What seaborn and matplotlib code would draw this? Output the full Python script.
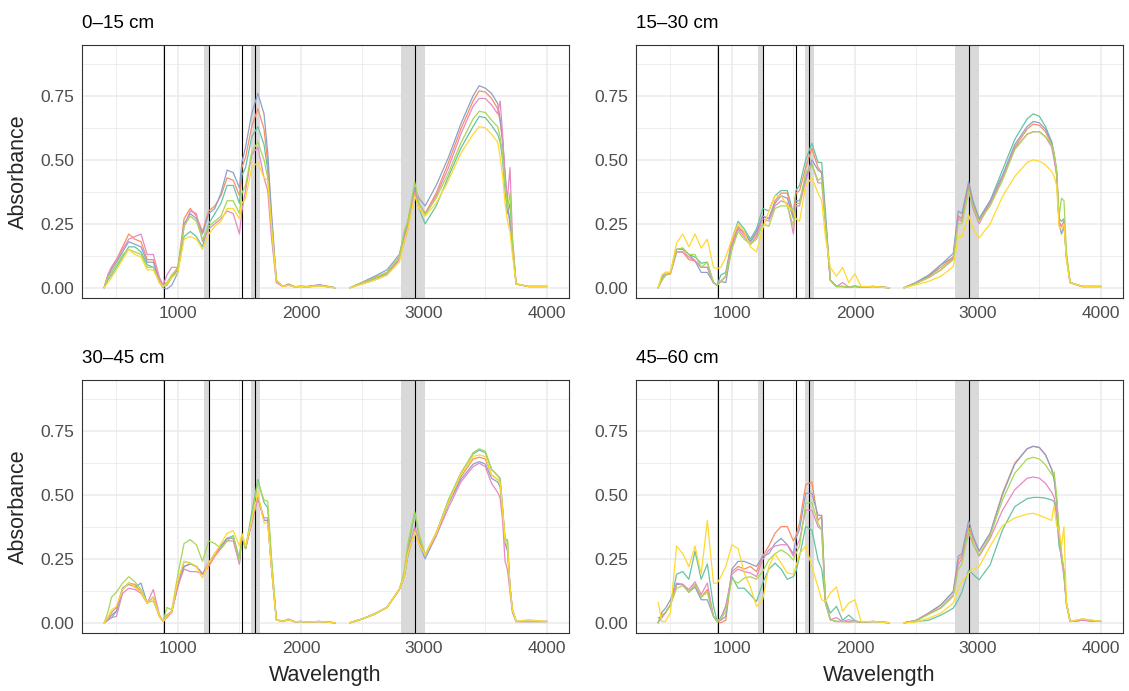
import numpy as np
import pandas as pd
import matplotlib
matplotlib.use("Agg")
import matplotlib.pyplot as plt
import seaborn as sns

# wavelength grid the spectra were read at (gap in the data between 2280 and 2400)
wavelength = [400, 430, 460, 500, 550, 600, 650, 700, 750, 800,
              850, 880, 910, 950, 1000, 1050, 1100, 1150, 1200, 1250,
              1300, 1350, 1400, 1450, 1500, 1520, 1550, 1600, 1650, 1700,
              1730, 1760, 1800, 1850, 1900, 1950, 2000, 2050, 2150, 2280,
              2400, 2500, 2600, 2700, 2800, 2840, 2870, 2925, 2960, 3010,
              3100, 3200, 3300, 3400, 3450, 3500, 3550, 3600, 3620, 3640,
              3660, 3680, 3700, 3720, 3750, 3850, 4000]

depths = ["0\u201315 cm", "15\u201330 cm", "30\u201345 cm", "45\u201360 cm"]
samples = ["S1", "S2", "S3", "S4", "S5", "S6"]

# 0-15 cm
p1_s1 = [0.00, 0.03, 0.05, 0.08, 0.12, 0.16, 0.16, 0.14, 0.09, 0.08,
         0.02, 0.005, 0.01, 0.04, 0.07, 0.20, 0.22, 0.20, 0.16, 0.25,
         0.29, 0.33, 0.40, 0.40, 0.33, 0.44, 0.47, 0.59, 0.63, 0.56,
         0.46, 0.25, 0.03, 0.005, 0.012, 0.003, 0.005, 0.003, 0.008, 0.0,
         0.0, 0.018, 0.035, 0.055, 0.11, 0.18, 0.23, 0.38, 0.31, 0.25,
         0.32, 0.435, 0.545, 0.63, 0.67, 0.665, 0.635, 0.60, 0.57, 0.50,
         0.38, 0.29, 0.33, 0.17, 0.015, 0.005, 0.005]
p1_s2 = [0.00, 0.05, 0.08, 0.11, 0.16, 0.21, 0.19, 0.18, 0.11, 0.11,
         0.03, 0.01, 0.02, 0.045, 0.08, 0.27, 0.31, 0.28, 0.22, 0.30,
         0.32, 0.36, 0.43, 0.42, 0.36, 0.47, 0.51, 0.63, 0.70, 0.62,
         0.49, 0.28, 0.03, 0.005, 0.015, 0.004, 0.006, 0.004, 0.01, 0.0,
         0.0, 0.02, 0.04, 0.06, 0.12, 0.20, 0.25, 0.38, 0.33, 0.29,
         0.37, 0.49, 0.62, 0.73, 0.77, 0.765, 0.74, 0.70, 0.65, 0.57,
         0.44, 0.32, 0.26, 0.15, 0.015, 0.005, 0.005]
p1_s3 = [0.00, 0.04, 0.07, 0.10, 0.14, 0.18, 0.17, 0.16, 0.10, 0.10,
         0.02, 0.0, -0.005, 0.01, 0.06, 0.25, 0.29, 0.27, 0.21, 0.29,
         0.31, 0.37, 0.46, 0.45, 0.39, 0.49, 0.55, 0.68, 0.76, 0.68,
         0.53, 0.30, 0.03, 0.005, 0.012, 0.004, 0.006, 0.005, 0.012, 0.0,
         0.0, 0.022, 0.045, 0.07, 0.13, 0.21, 0.26, 0.39, 0.35, 0.32,
         0.40, 0.51, 0.64, 0.75, 0.79, 0.78, 0.76, 0.72, 0.66, 0.58,
         0.45, 0.32, 0.25, 0.15, 0.015, 0.005, 0.005]
p1_s4 = [0.00, 0.05, 0.08, 0.11, 0.15, 0.19, 0.20, 0.21, 0.13, 0.13,
         0.04, 0.01, 0.05, 0.08, 0.08, 0.24, 0.30, 0.29, 0.18, 0.23,
         0.25, 0.27, 0.30, 0.29, 0.21, 0.30, 0.38, 0.52, 0.55, 0.43,
         0.38, 0.20, 0.02, 0.005, 0.01, 0.004, 0.005, 0.004, 0.01, 0.0,
         0.0, 0.015, 0.03, 0.05, 0.11, 0.19, 0.24, 0.37, 0.33, 0.29,
         0.36, 0.47, 0.60, 0.71, 0.74, 0.74, 0.715, 0.68, 0.73, 0.60,
         0.42, 0.35, 0.47, 0.20, 0.015, 0.005, 0.005]
p1_s5 = [0.00, 0.04, 0.06, 0.09, 0.13, 0.15, 0.14, 0.13, 0.08, 0.08,
         0.02, 0.005, 0.02, 0.05, 0.08, 0.24, 0.28, 0.26, 0.19, 0.24,
         0.26, 0.28, 0.34, 0.34, 0.29, 0.37, 0.40, 0.53, 0.57, 0.50,
         0.43, 0.25, 0.03, 0.005, 0.01, 0.003, 0.005, 0.003, 0.008, 0.0,
         0.0, 0.02, 0.038, 0.06, 0.12, 0.22, 0.26, 0.415, 0.33, 0.285,
         0.35, 0.45, 0.565, 0.66, 0.69, 0.685, 0.655, 0.63, 0.59, 0.52,
         0.40, 0.31, 0.37, 0.18, 0.015, 0.005, 0.005]
p1_s6 = [0.00, 0.02, 0.04, 0.07, 0.11, 0.15, 0.13, 0.12, 0.07, 0.07,
         0.02, 0.005, 0.015, 0.04, 0.06, 0.19, 0.20, 0.19, 0.15, 0.21,
         0.24, 0.26, 0.31, 0.31, 0.27, 0.33, 0.35, 0.47, 0.49, 0.43,
         0.42, 0.24, 0.03, 0.005, 0.01, 0.003, 0.005, 0.003, 0.008, 0.0,
         0.0, 0.015, 0.03, 0.05, 0.10, 0.18, 0.23, 0.36, 0.31, 0.28,
         0.33, 0.42, 0.525, 0.60, 0.63, 0.625, 0.60, 0.57, 0.51, 0.44,
         0.33, 0.26, 0.22, 0.13, 0.015, 0.005, 0.005]

# 15-30 cm
p2_s1 = [0.00, 0.03, 0.05, 0.06, 0.15, 0.155, 0.13, 0.12, 0.096, 0.10,
         0.02, 0.01, 0.05, 0.06, 0.19, 0.26, 0.23, 0.19, 0.23, 0.31,
         0.30, 0.36, 0.38, 0.38, 0.29, 0.38, 0.40, 0.50, 0.565, 0.49,
         0.49, 0.30, 0.03, 0.005, 0.005, 0.003, 0.005, 0.003, 0.005, 0.0,
         0.0, 0.02, 0.045, 0.09, 0.12, 0.28, 0.27, 0.40, 0.33, 0.27,
         0.34, 0.46, 0.58, 0.66, 0.68, 0.67, 0.63, 0.57, 0.525, 0.46,
         0.27, 0.26, 0.27, 0.12, 0.02, 0.005, 0.005]
p2_s2 = [0.00, 0.03, 0.05, 0.055, 0.14, 0.14, 0.11, 0.105, 0.08, 0.08,
         0.02, 0.01, 0.025, 0.045, 0.18, 0.24, 0.21, 0.18, 0.21, 0.28,
         0.27, 0.34, 0.37, 0.37, 0.28, 0.37, 0.38, 0.47, 0.545, 0.47,
         0.45, 0.27, 0.03, 0.005, 0.005, 0.003, 0.005, 0.003, 0.005, 0.0,
         0.0, 0.02, 0.045, 0.08, 0.12, 0.28, 0.27, 0.40, 0.33, 0.265,
         0.33, 0.43, 0.55, 0.62, 0.64, 0.635, 0.61, 0.56, 0.51, 0.45,
         0.26, 0.24, 0.26, 0.12, 0.02, 0.005, 0.005]
p2_s3 = [0.00, 0.04, 0.06, 0.06, 0.15, 0.15, 0.13, 0.105, 0.06, 0.06,
         0.02, 0.01, 0.025, 0.02, 0.16, 0.23, 0.22, 0.18, 0.22, 0.28,
         0.27, 0.33, 0.36, 0.35, 0.27, 0.34, 0.34, 0.43, 0.50, 0.46,
         0.45, 0.27, 0.03, 0.005, 0.005, 0.003, 0.005, 0.003, 0.005, 0.0,
         0.0, 0.022, 0.05, 0.09, 0.135, 0.30, 0.29, 0.415, 0.34, 0.27,
         0.34, 0.44, 0.56, 0.63, 0.65, 0.645, 0.62, 0.57, 0.52, 0.45,
         0.25, 0.21, 0.24, 0.12, 0.02, 0.005, 0.005]
p2_s4 = [0.00, 0.03, 0.05, 0.055, 0.14, 0.14, 0.12, 0.105, 0.08, 0.08,
         0.02, 0.01, 0.025, 0.045, 0.17, 0.23, 0.20, 0.17, 0.20, 0.27,
         0.26, 0.32, 0.34, 0.33, 0.21, 0.32, 0.32, 0.42, 0.485, 0.41,
         0.41, 0.25, 0.03, 0.005, 0.02, 0.003, 0.008, 0.003, 0.005, 0.0,
         0.0, 0.018, 0.04, 0.07, 0.115, 0.27, 0.26, 0.38, 0.31, 0.25,
         0.33, 0.43, 0.545, 0.60, 0.61, 0.61, 0.59, 0.55, 0.50, 0.44,
         0.25, 0.24, 0.26, 0.12, 0.02, 0.005, 0.005]
p2_s5 = [0.00, 0.03, 0.05, 0.06, 0.15, 0.155, 0.13, 0.13, 0.08, 0.10,
         0.02, 0.01, 0.025, 0.045, 0.15, 0.22, 0.19, 0.17, 0.19, 0.25,
         0.24, 0.31, 0.32, 0.32, 0.24, 0.33, 0.33, 0.45, 0.48, 0.42,
         0.43, 0.26, 0.03, 0.005, 0.005, 0.003, 0.005, 0.003, 0.005, 0.0,
         0.0, 0.018, 0.04, 0.07, 0.11, 0.25, 0.25, 0.38, 0.32, 0.26,
         0.32, 0.42, 0.54, 0.60, 0.61, 0.61, 0.59, 0.56, 0.525, 0.46,
         0.28, 0.35, 0.34, 0.14, 0.02, 0.005, 0.005]
p2_s6 = [0.00, 0.05, 0.06, 0.06, 0.175, 0.21, 0.16, 0.21, 0.155, 0.19,
         0.08, 0.075, 0.08, 0.12, 0.19, 0.25, 0.22, 0.16, 0.14, 0.23,
         0.30, 0.36, 0.36, 0.32, 0.30, 0.27, 0.26, 0.40, 0.43, 0.37,
         0.34, 0.20, 0.08, 0.045, 0.08, 0.02, 0.055, 0.005, 0.005, 0.0,
         0.0, 0.012, 0.025, 0.045, 0.083, 0.20, 0.20, 0.285, 0.23, 0.195,
         0.25, 0.357, 0.435, 0.49, 0.50, 0.495, 0.48, 0.455, 0.435, 0.40,
         0.24, 0.23, 0.25, 0.11, 0.02, 0.005, 0.005]

# 30-45 cm
p3_s1 = [0.00, 0.01, 0.02, 0.045, 0.13, 0.155, 0.14, 0.12, 0.077, 0.10,
         0.025, 0.005, 0.03, 0.045, 0.15, 0.24, 0.233, 0.22, 0.19, 0.233,
         0.27, 0.30, 0.33, 0.34, 0.25, 0.345, 0.29, 0.43, 0.56, 0.47,
         0.45, 0.25, 0.012, 0.005, 0.012, 0.004, 0.005, 0.003, 0.005, 0.0,
         0.0, 0.015, 0.035, 0.06, 0.13, 0.18, 0.285, 0.43, 0.34, 0.265,
         0.35, 0.48, 0.585, 0.66, 0.675, 0.665, 0.60, 0.575, 0.565, 0.45,
         0.32, 0.32, 0.14, 0.05, 0.005, 0.005, 0.005]
p3_s2 = [0.00, 0.02, 0.04, 0.06, 0.135, 0.155, 0.15, 0.12, 0.077, 0.10,
         0.025, 0.005, 0.025, 0.045, 0.14, 0.22, 0.23, 0.22, 0.19, 0.22,
         0.26, 0.29, 0.33, 0.33, 0.24, 0.34, 0.29, 0.39, 0.49, 0.40,
         0.40, 0.22, 0.012, 0.005, 0.012, 0.004, 0.005, 0.003, 0.005, 0.0,
         0.0, 0.015, 0.035, 0.06, 0.13, 0.18, 0.285, 0.37, 0.32, 0.265,
         0.35, 0.47, 0.57, 0.64, 0.647, 0.64, 0.578, 0.56, 0.55, 0.44,
         0.32, 0.29, 0.14, 0.05, 0.005, 0.005, 0.005]
p3_s3 = [0.00, 0.015, 0.03, 0.045, 0.135, 0.15, 0.14, 0.155, 0.077, 0.10,
         0.025, 0.005, 0.025, 0.045, 0.15, 0.22, 0.23, 0.22, 0.19, 0.233,
         0.27, 0.30, 0.33, 0.33, 0.23, 0.34, 0.29, 0.40, 0.49, 0.40,
         0.40, 0.22, 0.012, 0.005, 0.012, 0.004, 0.005, 0.003, 0.005, 0.0,
         0.0, 0.015, 0.035, 0.06, 0.13, 0.18, 0.26, 0.36, 0.31, 0.25,
         0.34, 0.465, 0.56, 0.62, 0.63, 0.62, 0.565, 0.55, 0.53, 0.43,
         0.31, 0.28, 0.14, 0.05, 0.005, 0.005, 0.005]
p3_s4 = [0.00, 0.01, 0.02, 0.025, 0.115, 0.135, 0.13, 0.115, 0.077, 0.13,
         0.03, 0.005, 0.02, 0.04, 0.15, 0.21, 0.20, 0.20, 0.19, 0.233,
         0.27, 0.29, 0.32, 0.32, 0.23, 0.34, 0.29, 0.39, 0.49, 0.41,
         0.41, 0.22, 0.012, 0.005, 0.015, 0.004, 0.005, 0.003, 0.005, 0.0,
         0.0, 0.015, 0.033, 0.06, 0.13, 0.18, 0.27, 0.376, 0.31, 0.265,
         0.34, 0.45, 0.55, 0.61, 0.624, 0.61, 0.545, 0.51, 0.487, 0.40,
         0.24, 0.207, 0.12, 0.04, 0.005, 0.005, 0.005]
p3_s5 = [0.00, 0.04, 0.10, 0.12, 0.155, 0.18, 0.16, 0.13, 0.08, 0.085,
         0.025, 0.005, 0.06, 0.05, 0.19, 0.31, 0.325, 0.305, 0.24, 0.32,
         0.31, 0.29, 0.32, 0.34, 0.24, 0.345, 0.29, 0.41, 0.55, 0.48,
         0.475, 0.26, 0.012, 0.005, 0.012, 0.004, 0.005, 0.003, 0.005, 0.0,
         0.0, 0.015, 0.035, 0.06, 0.13, 0.20, 0.31, 0.435, 0.35, 0.265,
         0.35, 0.48, 0.58, 0.665, 0.68, 0.67, 0.60, 0.575, 0.56, 0.45,
         0.33, 0.325, 0.14, 0.05, 0.005, 0.005, 0.005]
p3_s6 = [0.00, 0.02, 0.05, 0.064, 0.13, 0.155, 0.14, 0.12, 0.077, 0.10,
         0.025, 0.005, 0.025, 0.045, 0.17, 0.24, 0.233, 0.22, 0.175, 0.233,
         0.27, 0.31, 0.35, 0.36, 0.30, 0.35, 0.30, 0.40, 0.51, 0.39,
         0.39, 0.22, 0.012, 0.005, 0.012, 0.004, 0.005, 0.003, 0.005, 0.0,
         0.0, 0.015, 0.035, 0.06, 0.13, 0.18, 0.27, 0.357, 0.31, 0.265,
         0.35, 0.47, 0.58, 0.65, 0.656, 0.65, 0.578, 0.56, 0.545, 0.44,
         0.32, 0.30, 0.14, 0.05, 0.005, 0.012, 0.005]

# 45-60 cm
p4_s1 = [0.02, 0.02, 0.04, 0.07, 0.19, 0.20, 0.17, 0.28, 0.17, 0.23,
         0.064, 0.005, 0.02, 0.064, 0.18, 0.135, 0.135, 0.11, 0.083, 0.155,
         0.21, 0.233, 0.21, 0.17, 0.18, 0.20, 0.26, 0.376, 0.363, 0.246,
         0.21, 0.09, 0.038, 0.064, 0.01, 0.03, 0.008, 0.003, 0.005, 0.0,
         0.0, 0.005, 0.01, 0.03, 0.057, 0.09, 0.12, 0.207, 0.19, 0.168,
         0.227, 0.363, 0.454, 0.485, 0.49, 0.49, 0.487, 0.48, 0.474, 0.42,
         0.30, 0.26, 0.20, 0.077, 0.005, 0.01, 0.005]
p4_s2 = [0.00, 0.03, 0.04, 0.07, 0.15, 0.15, 0.12, 0.15, 0.10, 0.13,
         0.025, 0.005, 0.0, 0.01, 0.20, 0.22, 0.21, 0.22, 0.20, 0.26,
         0.30, 0.35, 0.376, 0.376, 0.32, 0.34, 0.39, 0.54, 0.55, 0.40,
         0.415, 0.08, 0.012, 0.005, 0.005, 0.004, 0.005, 0.003, 0.005, 0.0,
         0.0, 0.01, 0.038, 0.07, 0.122, 0.246, 0.26, 0.376, 0.33, 0.28,
         0.35, 0.506, 0.624, 0.68, 0.69, 0.685, 0.656, 0.60, 0.56, 0.48,
         0.35, 0.27, 0.20, 0.077, 0.005, 0.01, 0.005]
p4_s3 = [0.00, 0.04, 0.057, 0.09, 0.15, 0.15, 0.12, 0.14, 0.09, 0.09,
         0.025, 0.005, 0.01, 0.025, 0.21, 0.24, 0.24, 0.23, 0.22, 0.26,
         0.27, 0.31, 0.33, 0.305, 0.27, 0.33, 0.365, 0.506, 0.506, 0.42,
         0.42, 0.08, 0.012, 0.005, 0.005, 0.004, 0.005, 0.003, 0.005, 0.0,
         0.0, 0.01, 0.038, 0.07, 0.122, 0.26, 0.27, 0.40, 0.34, 0.28,
         0.35, 0.50, 0.62, 0.68, 0.69, 0.685, 0.656, 0.60, 0.56, 0.48,
         0.34, 0.25, 0.19, 0.077, 0.005, 0.01, 0.005]
p4_s4 = [0.00, 0.02, 0.04, 0.07, 0.155, 0.15, 0.13, 0.16, 0.11, 0.155,
         0.025, 0.005, 0.02, 0.064, 0.19, 0.21, 0.20, 0.195, 0.18, 0.246,
         0.285, 0.30, 0.305, 0.305, 0.26, 0.29, 0.325, 0.44, 0.44, 0.376,
         0.363, 0.08, 0.012, 0.02, 0.005, 0.012, 0.005, 0.003, 0.005, 0.0,
         0.0, 0.008, 0.035, 0.06, 0.11, 0.227, 0.25, 0.35, 0.31, 0.26,
         0.33, 0.44, 0.52, 0.565, 0.57, 0.565, 0.545, 0.51, 0.49, 0.44,
         0.33, 0.25, 0.18, 0.07, 0.005, 0.01, 0.005]
p4_s5 = [0.00, 0.03, 0.04, 0.07, 0.135, 0.145, 0.12, 0.15, 0.10, 0.12,
         0.025, 0.005, 0.015, 0.045, 0.17, 0.155, 0.175, 0.18, 0.17, 0.20,
         0.246, 0.27, 0.285, 0.27, 0.245, 0.27, 0.30, 0.467, 0.47, 0.39,
         0.363, 0.08, 0.012, 0.005, 0.005, 0.004, 0.005, 0.003, 0.005, 0.0,
         0.0, 0.008, 0.033, 0.057, 0.103, 0.207, 0.23, 0.363, 0.31, 0.265,
         0.34, 0.48, 0.585, 0.64, 0.647, 0.64, 0.617, 0.58, 0.59, 0.50,
         0.36, 0.27, 0.20, 0.077, 0.005, 0.015, 0.005]
p4_s6 = [0.08, 0.005, 0.005, 0.04, 0.30, 0.27, 0.22, 0.30, 0.19, 0.40,
         0.155, 0.155, 0.18, 0.22, 0.305, 0.29, 0.195, 0.14, 0.064, 0.09,
         0.22, 0.27, 0.233, 0.195, 0.19, 0.22, 0.27, 0.30, 0.22, 0.14,
         0.09, 0.083, 0.116, 0.14, 0.045, 0.077, 0.09, 0.005, 0.005, 0.0,
         0.0, 0.003, 0.018, 0.038, 0.077, 0.135, 0.16, 0.194, 0.21, 0.22,
         0.30, 0.38, 0.41, 0.425, 0.428, 0.42, 0.41, 0.40, 0.46, 0.38,
         0.36, 0.30, 0.376, 0.077, 0.005, 0.015, 0.005]

# marked bands and band centres
bands = [(875, 895), (1215, 1251), (1595, 1665), (2810, 3010)]
peaks = [884, 1251, 1517, 1626, 2929]

spectra = {
    depths[0]: [p1_s1, p1_s2, p1_s3, p1_s4, p1_s5, p1_s6],
    depths[1]: [p2_s1, p2_s2, p2_s3, p2_s4, p2_s5, p2_s6],
    depths[2]: [p3_s1, p3_s2, p3_s3, p3_s4, p3_s5, p3_s6],
    depths[3]: [p4_s1, p4_s2, p4_s3, p4_s4, p4_s5, p4_s6],
}

rows = []
for d in depths:
    for s, vals in zip(samples, spectra[d]):
        for w, a in zip(wavelength, vals):
            rows.append((d, s, w, a, 0 if w < 2340 else 1))
df = pd.DataFrame(rows, columns=["depth", "sample", "wavelength", "absorbance", "seg"])

sns.set_style("white")
plt.rcParams["font.family"] = ["Liberation Sans", "DejaVu Sans"]

W, H = 1129, 691
fig = plt.figure(figsize=(W / 100, H / 100), dpi=100)

# panel boxes in pixels: left, top, right, bottom
boxes = [(82, 45, 569, 298), (636, 45, 1123, 298),
         (82, 380, 569, 633), (636, 380, 1123, 633)]

grid_c = "#EBEBEB"
for i, d in enumerate(depths):
    l, t, r, b = boxes[i]
    ax = fig.add_axes([l / W, 1 - b / H, (r - l) / W, (b - t) / H])
    ax.set_axisbelow(True)
    for lo, hi in bands:
        ax.axvspan(lo, hi, color="#D9D9D9", lw=0, zorder=1)
    for p in peaks:
        ax.axvline(p, color="black", lw=0.8, zorder=1.5)
    sns.lineplot(data=df[df["depth"] == d], x="wavelength", y="absorbance",
                 hue="sample", hue_order=samples, units="seg", estimator=None,
                 palette="Set2", lw=0.9, legend=False, ax=ax, zorder=2)
    ax.set_xlim(220, 4180)
    ax.set_ylim(-0.040, 0.949)
    ax.set_xticks([1000, 2000, 3000, 4000])
    ax.set_xticks([500, 1500, 2500, 3500], minor=True)
    ax.set_yticks([0, 0.25, 0.5, 0.75])
    ax.set_yticks([0.125, 0.375, 0.625, 0.875], minor=True)
    ax.set_yticklabels(["0.00", "0.25", "0.50", "0.75"])
    ax.grid(which="major", color=grid_c, lw=1.1)
    ax.grid(which="minor", color=grid_c, lw=0.6)
    ax.tick_params(which="major", length=3, width=0.8, color="#333333",
                   labelcolor="#4D4D4D", labelsize=12.5, pad=2.5)
    ax.tick_params(which="minor", length=0)
    for sp in ax.spines.values():
        sp.set_color("#333333")
        sp.set_linewidth(0.8)
    ax.set_xlabel("")
    ax.set_ylabel("")
    ax.text(0, 1 + 17 / (b - t), d, transform=ax.transAxes, ha="left",
            va="baseline", fontsize=13.5, color="black")
    if i % 2 == 0:
        fig.text(18 / W, 1 - ((t + b) / 2) / H, "Absorbance", rotation=90,
                 ha="center", va="center", fontsize=15.5)
    if i >= 2:
        fig.text(((l + r) / 2) / W, 1 - 676 / H, "Wavelength",
                 ha="center", va="center", fontsize=15.5)

fig.savefig("out.png", dpi=100, facecolor="white")
